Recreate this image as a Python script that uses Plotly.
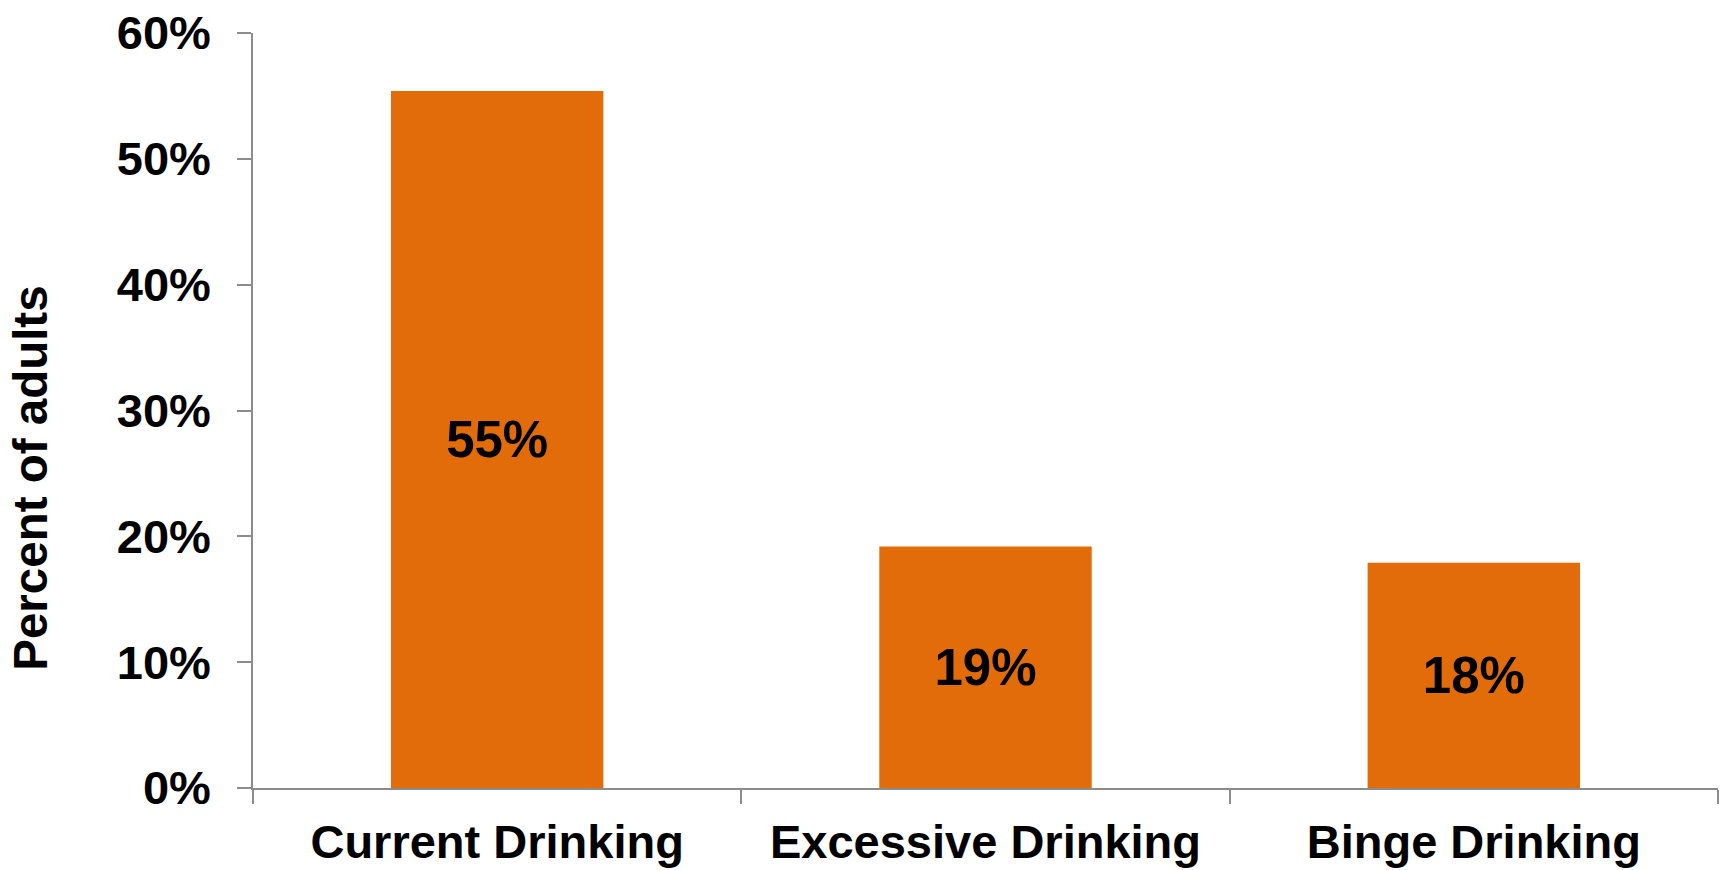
import plotly.graph_objects as go

# Share of adults by drinking pattern
categories = ["Current Drinking", "Excessive Drinking", "Binge Drinking"]
percent_adults = [55.4, 19.2, 17.9]
y_tick_values = [0, 10, 20, 30, 40, 50, 60]
y_tick_labels = ["0%", "10%", "20%", "30%", "40%", "50%", "60%"]

FONT = "Liberation Sans, Arial, sans-serif"
BAR_COLOR = "#E36C0A"
AXIS_COLOR = "#8C8C8C"

fig = go.Figure(
    go.Bar(
        x=categories,
        y=percent_adults,
        marker=dict(color=BAR_COLOR, line=dict(width=0)),
        texttemplate="%{y:.0f}%",
        textposition="inside",
        insidetextanchor="middle",
        textangle=0,
        textfont=dict(family=FONT, size=51, color="black", weight="bold"),
        width=0.435,
        hoverinfo="skip",
    )
)

fig.update_layout(
    width=1725,
    height=870,
    margin=dict(l=253, r=7, t=33, b=82),
    plot_bgcolor="white",
    paper_bgcolor="white",
    showlegend=False,
    font=dict(family=FONT, color="black"),
    annotations=[
        dict(
            text="Percent of adults",
            xref="paper", yref="paper",
            x=-0.152, y=0.410,
            xanchor="center", yanchor="middle",
            textangle=-90,
            showarrow=False,
            font=dict(family=FONT, size=47.5, color="black", weight="bold"),
        )
    ],
)

fig.update_xaxes(
    type="category",
    range=[-0.5, 2.5],
    automargin=False,
    showline=True,
    linecolor=AXIS_COLOR,
    linewidth=1.5,
    ticks="outside",
    tickson="boundaries",
    ticklen=14,
    tickwidth=1.5,
    tickcolor=AXIS_COLOR,
    showgrid=False,
    ticklabelstandoff=12,
    tickfont=dict(family=FONT, size=47, color="black", weight="bold"),
)

fig.update_yaxes(
    range=[0, 60],
    automargin=False,
    tickvals=y_tick_values,
    ticktext=y_tick_labels,
    showline=True,
    linecolor=AXIS_COLOR,
    linewidth=1.5,
    ticks="outside",
    ticklen=14,
    tickwidth=1.5,
    tickcolor=AXIS_COLOR,
    showgrid=False,
    zeroline=False,
    ticklabelstandoff=17,
    tickfont=dict(family=FONT, size=47, color="black", weight="bold"),
)

fig.write_html("out.html")
